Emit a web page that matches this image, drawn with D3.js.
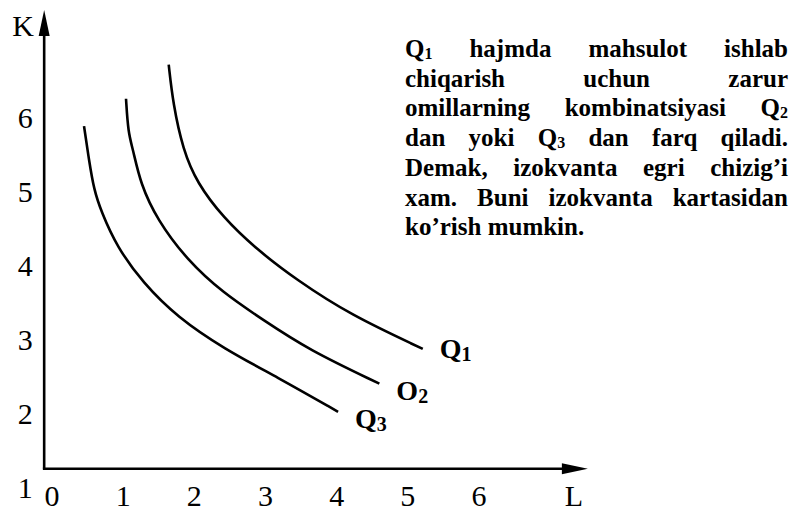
<!DOCTYPE html>
<html>
<head>
<meta charset="utf-8">
<script src="https://cdn.jsdelivr.net/npm/d3@7"></script>
<style>
  html, body { margin: 0; padding: 0; background: #fff; }
  svg { display: block; }
  text { font-family: "Liberation Serif", "Times New Roman", serif; fill: #000; }
</style>
</head>
<body>
<div id="chart"></div>
<script>
// ticks on both axes
const lTicks = [0, 1, 2, 3, 4, 5, 6];
const kTicks = [1, 2, 3, 4, 5, 6];

// isoquants (L, K)
const q1L = [1.64, 1.70, 1.84, 2.04, 2.40, 2.88, 3.44, 4.19, 5.21];
const q1K = [6.72, 6.20, 5.57, 5.12, 4.66, 4.22, 3.81, 3.34, 2.88];
const q2L = [1.04, 1.07, 1.14, 1.24, 1.48, 1.90, 2.40, 2.97, 3.60, 4.60];
const q2K = [6.26, 5.80, 5.57, 5.12, 4.62, 4.08, 3.64, 3.27, 2.87, 2.41];
const q3L = [0.45, 0.52, 0.59, 0.69, 0.91, 1.28, 1.76, 2.42, 3.16, 4.02];
const q3K = [5.89, 5.43, 5.03, 4.74, 4.26, 3.77, 3.31, 2.88, 2.50, 2.03];

const curveNames = ["Q_1", "O_2", "Q_3"];

// text on the right, one entry per printed line ("_" marks a subscript)
const noteLines = [
  "Q_1 hajmda mahsulot ishlab",
  "chiqarish uchun zarur",
  "omillarning kombinatsiyasi Q_2",
  "dan yoki Q_3 dan farq qiladi.",
  "Demak, izokvanta egri chizig’i",
  "xam. Buni izokvanta kartasidan",
  "ko’rish mumkin."
];

const width = 792, height = 511;

const svg = d3.select("#chart")
  .append("svg")
  .attr("width", width)
  .attr("height", height);

const x = d3.scaleLinear().domain([0, 6]).range([52, 479]);
const y = d3.scaleLinear().domain([1, 6]).range([488, 118]);

// where the axes sit (data units)
const axisL = -0.11, axisK = 1.26, endL = 7.53, endK = 7.46;

const x0 = x(axisL), y0 = y(axisK);

// axes
svg.append("line")
  .attr("x1", x0).attr("y1", y0)
  .attr("x2", x0).attr("y2", y(endK) + 20)
  .attr("stroke", "#000").attr("stroke-width", 2.6);
svg.append("line")
  .attr("x1", x0 - 1.3).attr("y1", y0)
  .attr("x2", x(endL) - 20).attr("y2", y0)
  .attr("stroke", "#000").attr("stroke-width", 2.6);

// arrow heads
const yt = y(endK), xt = x(endL);
svg.append("path")
  .attr("d", `M${x0},${yt} L${x0 - 5.5},${yt + 26} L${x0 + 5.5},${yt + 26} Z`)
  .attr("fill", "#000");
svg.append("path")
  .attr("d", `M${xt},${y0} L${xt - 26},${y0 - 5.5} L${xt - 26},${y0 + 5.5} Z`)
  .attr("fill", "#000");

// tick labels
svg.selectAll(".ky")
  .data(kTicks)
  .enter()
  .append("text")
  .attr("class", "ky")
  .attr("x", x0 - 19)
  .attr("y", d => y(d) + 10)
  .attr("text-anchor", "middle")
  .style("font-size", "30px")
  .text(d => d);

svg.selectAll(".lx")
  .data(lTicks)
  .enter()
  .append("text")
  .attr("class", "lx")
  .attr("x", d => x(d))
  .attr("y", y0 + 37)
  .attr("text-anchor", "middle")
  .style("font-size", "30px")
  .text(d => d);

svg.append("text")
  .attr("x", x0 - 21).attr("y", yt + 26)
  .attr("text-anchor", "middle")
  .style("font-size", "30px")
  .text("K");
svg.append("text")
  .attr("x", xt - 14).attr("y", y0 + 37)
  .attr("text-anchor", "middle")
  .style("font-size", "30px")
  .text("L");

// isoquant curves
const line = d3.line()
  .x(d => x(d[0]))
  .y(d => y(d[1]))
  .curve(d3.curveBasis);

const curves = [
  d3.zip(q1L, q1K),
  d3.zip(q2L, q2K),
  d3.zip(q3L, q3K)
];

svg.selectAll(".iso")
  .data(curves)
  .enter()
  .append("path")
  .attr("class", "iso")
  .attr("d", line)
  .attr("fill", "none")
  .attr("stroke", "#000")
  .attr("stroke-width", 2.6);

// writes "A_1" as A with a subscript 1
function addRich(textSel, str, subSize, subDy) {
  const parts = str.split("_");
  textSel.append("tspan").text(parts[0]);
  if (parts.length > 1) {
    textSel.append("tspan")
      .style("font-size", subSize + "px")
      .attr("dy", subDy)
      .text(parts[1][0]);
    if (parts[1].length > 1) {
      textSel.append("tspan").attr("dy", -subDy).text(parts[1].slice(1));
    }
  }
}

// curve labels
const labelDy = [9, 16, 16];
curves.forEach((c, i) => {
  const last = c[c.length - 1];
  const t = svg.append("text")
    .attr("x", x(last[0]) + 17)
    .attr("y", y(last[1]) + labelDy[i])
    .style("font-size", "28px")
    .style("font-weight", "bold");
  addRich(t, curveNames[i], 20, 3);
});

// justified note block
const noteLeft = 405, noteRight = 788, firstBase = 57, lineGap = 29.7;

noteLines.forEach((ln, i) => {
  const words = ln.split(" ");
  const g = svg.append("g");
  const nodes = words.map(w => {
    const t = g.append("text")
      .attr("y", firstBase + i * lineGap)
      .style("font-size", "25px")
      .style("font-weight", "bold");
    addRich(t, w, 16, 2);
    return t;
  });
  const widths = nodes.map(n => n.node().getComputedTextLength());
  const total = d3.sum(widths);
  const last = i === noteLines.length - 1;
  const gap = last ? 6.25 : (noteRight - noteLeft - total) / (words.length - 1);
  let cx = noteLeft;
  nodes.forEach((n, j) => {
    n.attr("x", cx);
    cx += widths[j] + gap;
  });
});
</script>
</body>
</html>
